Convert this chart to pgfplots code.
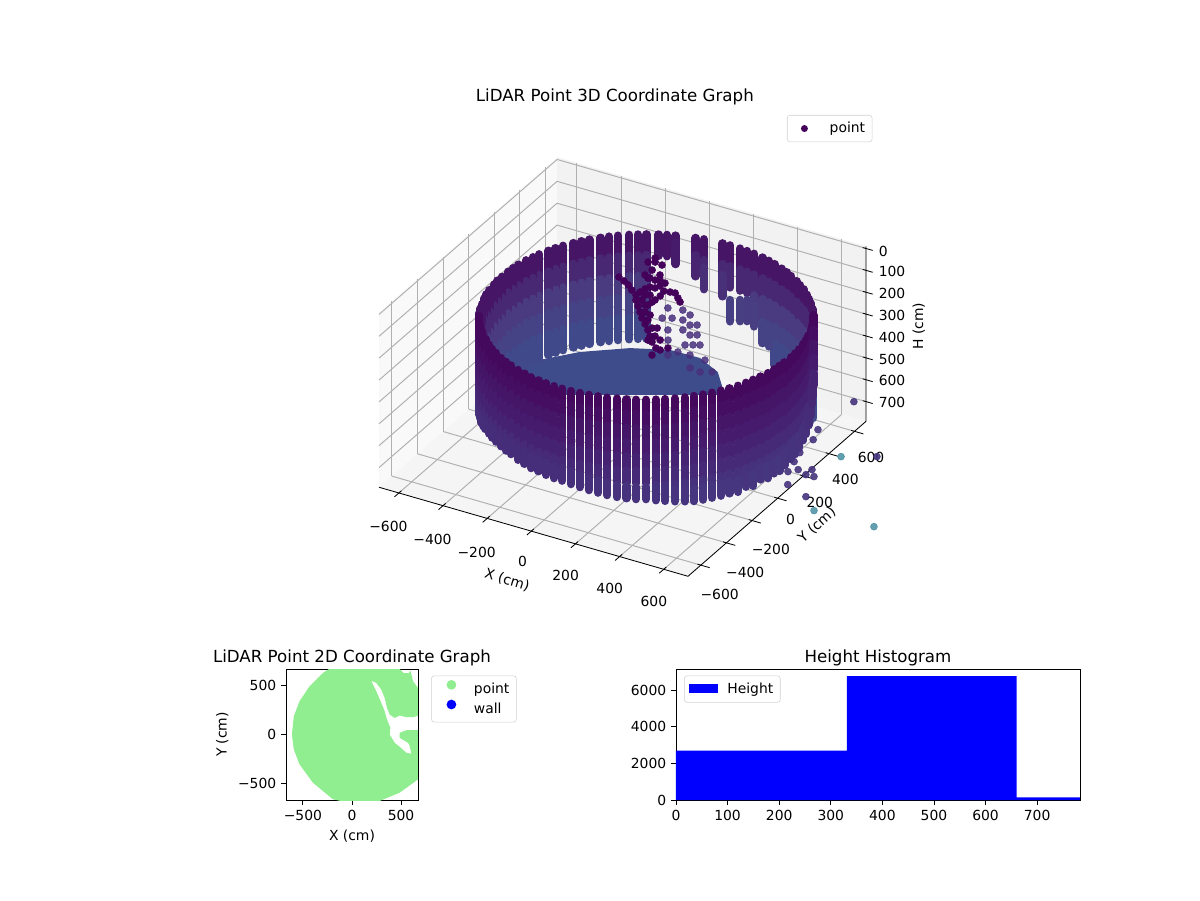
\documentclass[border=0pt]{standalone}
\usepackage{pgfplots}
\usepackage{fontspec}
\setmainfont{DejaVu Sans}
\pgfplotsset{compat=1.18}
\pgfdeclareplotmark{capsule}{%
  \pgfsetlinewidth{6pt}\pgfsetroundcap
  \pgfpathmoveto{\pgfqpoint{0pt}{-7.7pt}}\pgfpathlineto{\pgfqpoint{0pt}{7.7pt}}\pgfusepathqstroke}
\pgfdeclareplotmark{capsuleb}{%
  \pgfsetlinewidth{5.9pt}\pgfsetroundcap
  \pgfpathmoveto{\pgfqpoint{0pt}{-4.5pt}}\pgfpathlineto{\pgfqpoint{0pt}{4.5pt}}\pgfusepathqstroke}
\definecolor{treecol}{RGB}{68,1,90}
\definecolor{midcol}{RGB}{72,48,125}
\definecolor{floorcol}{RGB}{63,76,139}
\definecolor{scatcol}{RGB}{70,52,125}
\definecolor{tealcol}{RGB}{60,135,155}
\definecolor{lgreen}{RGB}{144,238,144}
\pgfplotsset{
  colormap={frontmap}{rgb255=(68,8,92) rgb255=(70,30,112) rgb255=(70,55,128)},
  colormap={backmap}{rgb255=(70,14,98) rgb255=(74,58,128) rgb255=(63,76,139)},
  mpl/.style={tick style={black,line width=.6pt},major tick length=3.5pt,tick align=outside,
    legend cell align=left,
    legend style={draw=black!18,rounded corners=2pt,inner sep=3pt,row sep=1pt}},
}
\begin{document}
\begin{tikzpicture}
\path (0,0) rectangle (864pt,648pt);
\begin{axis}[mpl,
  set layers,
  anchor=origin, at={(447.1pt,446.2pt)},
  x={(0.15890pt,-0.04579pt)}, y={(0.09223pt,0.08028pt)}, z={(0pt,0.1575pt)}, z dir=reverse,
  xmin=-690,xmax=710,ymin=-700,ymax=690,zmin=-10,zmax=790,
  clip=false,
  grid=major, grid style={color=black!31,line width=.7pt},
  axis line style={draw=none},
  tick style={draw=none},
  xtick={-600,-400,-200,0,200,400,600},
  ytick={-600,-400,-200,0,200,400,600},
  ztick={0,100,200,300,400,500,600,700},
  xticklabels={−600,−400,−200,0,200,400,600},
  yticklabels={−600,−400,−200,0,200,400,600},
  zticklabels={0,100,200,300,400,500,600,700},
  xtick pos=right, ytick pos=right, ztick pos=right,
  xticklabel pos=left, yticklabel pos=left, zticklabel pos=right,
  xticklabel style={yshift=-11pt}, yticklabel style={yshift=-6.5pt},
  zticklabel style={xshift=3pt,yshift=-6pt},
  title={LiDAR Point 3D Coordinate Graph},
  title style={font=\fontsize{12}{14}\selectfont,at={(axis cs:-744,1234,0)},anchor=center,yshift=-7pt},
  xlabel={X (cm)}, xlabel style={at={(axis cs:109,-1077,790)},anchor=center,rotate=-17},
  ylabel={Y (cm)}, ylabel style={at={(axis cs:949,-105,790)},anchor=center,rotate=42},
  zlabel={H (cm)}, zlabel style={at={(axis cs:890,792,354)},anchor=center},
]
% panes
\addplot3[on layer=axis background,fill=black!2.5,draw=none,forget plot] coordinates {(-690,-700,-10)(-690,690,-10)(-690,690,790)(-690,-700,790)} --cycle;
\addplot3[on layer=axis background,fill=black!5,draw=none,forget plot] coordinates {(-690,690,-10)(710,690,-10)(710,690,790)(-690,690,790)} --cycle;
\addplot3[on layer=axis background,fill=black!4,draw=none,forget plot] coordinates {(-690,-700,790)(710,-700,790)(710,690,790)(-690,690,790)} --cycle;
% spines and tick marks
\addplot3[black,line width=.6pt,forget plot] coordinates {(-690,-700,790)(710,-700,790)(710,690,790)(710,690,-10)};
\addplot3[black,line width=.6pt,forget plot,unbounded coords=jump] coordinates {
(-600,-680,790)(-600,-735,790)(nan,nan,nan)(-400,-680,790)(-400,-735,790)(nan,nan,nan)(-200,-680,790)(-200,-735,790)(nan,nan,nan)(0,-680,790)(0,-735,790)(nan,nan,nan)(200,-680,790)(200,-735,790)(nan,nan,nan)(400,-680,790)(400,-735,790)(nan,nan,nan)(600,-680,790)(600,-735,790)(nan,nan,nan)
(695,-600,790)(750,-600,790)(nan,nan,nan)(695,-400,790)(750,-400,790)(nan,nan,nan)(695,-200,790)(750,-200,790)(nan,nan,nan)(695,0,790)(750,0,790)(nan,nan,nan)(695,200,790)(750,200,790)(nan,nan,nan)(695,400,790)(750,400,790)(nan,nan,nan)(695,600,790)(750,600,790)(nan,nan,nan)
(695,690,0)(740,690,0)(nan,nan,nan)(695,690,100)(740,690,100)(nan,nan,nan)(695,690,200)(740,690,200)(nan,nan,nan)(695,690,300)(740,690,300)(nan,nan,nan)(695,690,400)(740,690,400)(nan,nan,nan)(695,690,500)(740,690,500)(nan,nan,nan)(695,690,600)(740,690,600)(nan,nan,nan)(695,690,700)(740,690,700)};
% back wall
\addplot3[scatter,only marks,mark=capsule,point meta=z,colormap name=backmap,point meta min=90,point meta max=470,forget plot,
 scatter/use mapped color={draw=mapped color,fill=mapped color}] coordinates {
(749,210,90)(749,210,185)(749,210,280)(749,210,375)(749,210,470)
(730,238,90)(730,238,185)(730,238,280)(730,238,375)(730,238,470)
(702,274,90)(702,274,185)(702,274,280)(702,274,375)(702,274,470)
(679,300,90)(679,300,185)(679,300,280)(679,300,375)(679,300,470)
(655,324,90)(655,324,185)(655,324,280)(655,324,375)(655,324,470)
(621,355,90)(621,355,185)(621,355,280)(621,355,375)(621,355,470)
(594,376,90)(594,376,185)(594,376,280)(594,376,375)(594,376,470)
(566,396,90)(566,396,185)(566,396,280)(566,396,375)(566,396,470)
(528,420,90)(528,420,185)(528,420,280)(528,420,375)(528,420,460)
(497,437,90)(497,437,185)(497,437,280)(497,437,375)(497,437,460)
(466,451,90)(466,451,185)(466,451,280)(466,451,375)(466,451,454)
(424,468,90)(424,468,185)(424,468,280)(424,468,375)(424,468,454)
(392,479,90)(392,479,185)(392,479,280)(392,479,384)
(358,489,90)(358,489,185)(358,489,280)(358,489,384)
(314,498,90)(314,498,185)(314,498,280)(314,498,325)
(280,503,90)(280,503,185)(280,503,313)
(246,506,90)(246,506,185)(246,506,325)
(200,508,90)(200,508,185)(200,508,340)
(166,507,90)(166,507,185)(166,507,235)
(86,498,90)(86,498,185)(86,498,221)
(53,491,90)(53,491,168)
(-24,468,90)(-24,468,123)
(-56,456,90)
(-87,442,90)
(-128,420,90)(-128,420,185)(-128,420,280)(-128,420,375)(-128,420,470)
(-157,402,90)(-157,402,185)(-157,402,280)(-157,402,375)(-157,402,470)
(-185,383,90)(-185,383,185)(-185,383,280)(-185,383,375)(-185,383,470)
(-221,355,90)(-221,355,185)(-221,355,280)(-221,355,375)(-221,355,470)
(-247,332,90)(-247,332,185)(-247,332,280)(-247,332,375)(-247,332,470)
(-271,308,90)(-271,308,185)(-271,308,280)(-271,308,375)(-271,308,470)
(-302,274,90)(-302,274,185)(-302,274,280)(-302,274,375)(-302,274,470)
(-323,247,90)(-323,247,185)(-323,247,280)(-323,247,375)(-323,247,470)
(-343,219,90)(-343,219,185)(-343,219,280)(-343,219,375)(-343,219,470)
(-367,181,90)(-367,181,185)(-367,181,280)(-367,181,375)(-367,181,470)
(-384,150,90)(-384,150,185)(-384,150,280)(-384,150,375)(-384,150,470)
(-398,119,90)(-398,119,185)(-398,119,280)(-398,119,375)(-398,119,470)
(-415,77,90)(-415,77,185)(-415,77,280)(-415,77,375)(-415,77,470)
(-426,45,90)(-426,45,185)(-426,45,280)(-426,45,375)(-426,45,470)
(-436,11,90)(-436,11,185)(-436,11,280)(-436,11,375)(-436,11,470)
(-445,-33,90)(-445,-33,185)(-445,-33,280)(-445,-33,375)(-445,-33,470)
(-450,-67,90)(-450,-67,185)(-450,-67,280)(-450,-67,375)(-450,-67,470)
(-453,-101,90)(-453,-101,185)(-453,-101,280)(-453,-101,375)(-453,-101,470)
(-455,-147,90)(-455,-147,185)(-455,-147,280)(-455,-147,375)
(-454,-181,90)(-454,-181,185)(-454,-181,280)(-454,-181,375)
(-451,-215,90)(-451,-215,185)(-451,-215,280)(-451,-215,375)
(-445,-261,90)(-445,-261,185)(-445,-261,280)(-445,-261,375)
(-438,-294,90)(-438,-294,185)(-438,-294,280)(-438,-294,375)
(-430,-328,90)(-430,-328,185)(-430,-328,280)(-430,-328,375)
(-415,-371,90)(-415,-371,185)(-415,-371,280)(-415,-371,375)
(-403,-403,90)(-403,-403,185)(-403,-403,280)(-403,-403,375)
(-389,-434,90)(-389,-434,185)(-389,-434,280)(-389,-434,375)
(-367,-475,90)(-367,-475,185)(-367,-475,280)(-367,-475,375)
};
% floor
\addplot3[fill=floorcol,draw=none,forget plot] coordinates {(-427,-131,490)(-384,28,490)(-279,159,490)(-123,283,490)(20,348,490)(154,352,490)(269,292,490)(383,151,490)(-349,-266,490)} --cycle;
% objects inside the ring
\addplot3[only marks,mark=*,mark size=2.5pt,color=midcol,opacity=.85,forget plot] coordinates {
(156,214,200)(195,147,200)(234,80,200)(200,195,200)(239,127,200)(278,60,200)(263,141,200)(302,74,200)(351,12,200)(327,-1,200)(300,-17,200)(303,-78,200)(223,-17,200)(183,51,200)(151,139,200)(97,199,200)(117,120,200)(281,-118,200)(356,-75,200)(427,-80,200)(498,-146,200)(457,-170,200)(407,-162,200)};
\addplot3[only marks,mark=*,mark size=2.5pt,color=treecol,forget plot] coordinates {
(-191,313,200)(-158,296,200)(-128,277,200)(-96,250,200)(-62,224,200)(-60,253,200)(-55,283,200)(-46,305,200)(-25,309,200)(-16,332,200)(17,305,200)(42,311,200)(63,314,200)(92,286,200)(115,263,200)(-43,191,200)(-12,154,200)(18,118,200)(48,81,200)(82,47,200)(115,12,200)(146,-25,200)(176,-61,200)(213,-94,200)(196,-32,200)(139,43,200)(64,117,200)(18,180,200)(22,228,200)(24,265,200)(-105,424,200)(-88,362,200)(-126,484,200)(-59,406,200)
(-110,377,200)(-81,366,200)(-56,362,200)(-39,372,200)(-10,361,200)(-31,242,200)(-14,251,200)(20,208,200)(8,175,200)(-23,203,200)(35,128,200)(76,79,200)(122,33,200)(163,-15,200)(155,-56,200)(235,-99,200)(227,-149,200)(254,-71,200)(-142,511,200)(-150,470,200)(-91,477,200)};
% lower right scatter
\addplot3[only marks,mark=*,mark size=2.5pt,color=scatcol,opacity=.9,forget plot] coordinates {
(855,-77,500)(840,-113,500)(871,-149,500)(889,-228,500)(916,-195,500)(962,-214,500)(963,-168,500)(997,-211,500)(939,-316,500)(1048,-362,500)(827,113,500)(850,36,500)(816,16,500)(782,-3,500)(765,78,500)(772,145,500)(723,206,500)(701,283,500)(840,371,500)(1133,46,500)};
% front wall
\addplot3[scatter,only marks,mark=capsuleb,point meta=z,colormap name=frontmap,point meta min=57,point meta max=498,forget plot,
 scatter/use mapped color={draw=mapped color,fill=mapped color}] coordinates {
(-367,-475,57)(-367,-475,122)(-367,-475,187)(-367,-475,252)(-367,-475,317)(-367,-475,382)(-367,-475,436)
(-349,-504,57)(-349,-504,122)(-349,-504,187)(-349,-504,252)(-349,-504,317)(-349,-504,382)(-349,-504,431)
(-330,-532,57)(-330,-532,122)(-330,-532,187)(-330,-532,252)(-330,-532,317)(-330,-532,382)(-330,-532,426)
(-302,-568,57)(-302,-568,122)(-302,-568,187)(-302,-568,252)(-302,-568,317)(-302,-568,382)(-302,-568,421)
(-279,-594,57)(-279,-594,122)(-279,-594,187)(-279,-594,252)(-279,-594,317)(-279,-594,382)(-279,-594,416)
(-255,-618,57)(-255,-618,122)(-255,-618,187)(-255,-618,252)(-255,-618,317)(-255,-618,382)(-255,-618,411)
(-221,-649,57)(-221,-649,122)(-221,-649,187)(-221,-649,252)(-221,-649,317)(-221,-649,382)(-221,-649,406)
(-194,-670,57)(-194,-670,122)(-194,-670,187)(-194,-670,252)(-194,-670,317)(-194,-670,382)(-194,-670,406)
(-166,-690,57)(-166,-690,122)(-166,-690,187)(-166,-690,252)(-166,-690,317)(-166,-690,382)(-166,-690,406)
(-128,-714,57)(-128,-714,122)(-128,-714,187)(-128,-714,252)(-128,-714,317)(-128,-714,382)(-128,-714,404)
(-97,-731,57)(-97,-731,122)(-97,-731,187)(-97,-731,252)(-97,-731,317)(-97,-731,382)(-97,-731,406)
(-66,-745,57)(-66,-745,122)(-66,-745,187)(-66,-745,252)(-66,-745,317)(-66,-745,382)(-66,-745,406)
(-24,-762,57)(-24,-762,122)(-24,-762,187)(-24,-762,252)(-24,-762,317)(-24,-762,382)(-24,-762,411)
(12,-774,57)(12,-774,122)(12,-774,187)(12,-774,252)(12,-774,317)(12,-774,382)(12,-774,413)
(49,-785,57)(49,-785,122)(49,-785,187)(49,-785,252)(49,-785,317)(49,-785,382)(49,-785,416)
(86,-792,57)(86,-792,122)(86,-792,187)(86,-792,252)(86,-792,317)(86,-792,382)(86,-792,416)
(124,-797,57)(124,-797,122)(124,-797,187)(124,-797,252)(124,-797,317)(124,-797,382)(124,-797,419)
(162,-801,57)(162,-801,122)(162,-801,187)(162,-801,252)(162,-801,317)(162,-801,382)(162,-801,421)
(200,-802,57)(200,-802,122)(200,-802,187)(200,-802,252)(200,-802,317)(200,-802,382)(200,-802,421)
(238,-801,57)(238,-801,122)(238,-801,187)(238,-801,252)(238,-801,317)(238,-801,382)(238,-801,426)
(276,-797,57)(276,-797,122)(276,-797,187)(276,-797,252)(276,-797,317)(276,-797,382)(276,-797,431)
(314,-792,57)(314,-792,122)(314,-792,187)(314,-792,252)(314,-792,317)(314,-792,382)(314,-792,436)
(351,-784,57)(351,-784,122)(351,-784,187)(351,-784,252)(351,-784,317)(351,-784,382)(351,-784,441)
(388,-775,57)(388,-775,122)(388,-775,187)(388,-775,252)(388,-775,317)(388,-775,382)(388,-775,446)
(424,-762,57)(424,-762,122)(424,-762,187)(424,-762,252)(424,-762,317)(424,-762,382)(424,-762,451)
(460,-749,57)(460,-749,122)(460,-749,187)(460,-749,252)(460,-749,317)(460,-749,382)(460,-749,453)
(494,-733,57)(494,-733,122)(494,-733,187)(494,-733,252)(494,-733,317)(494,-733,382)(494,-733,455)
(528,-714,57)(528,-714,122)(528,-714,187)(528,-714,252)(528,-714,317)(528,-714,382)(528,-714,455)
(560,-694,57)(560,-694,122)(560,-694,187)(560,-694,252)(560,-694,317)(560,-694,382)(560,-694,447)(560,-694,461)
(591,-672,57)(591,-672,122)(591,-672,187)(591,-672,252)(591,-672,317)(591,-672,382)(591,-672,447)(591,-672,466)
(621,-649,57)(621,-649,122)(621,-649,187)(621,-649,252)(621,-649,317)(621,-649,382)(621,-649,447)(621,-649,471)
(650,-623,57)(650,-623,122)(650,-623,187)(650,-623,252)(650,-623,317)(650,-623,382)(650,-623,447)(650,-623,476)
(676,-596,57)(676,-596,122)(676,-596,187)(676,-596,252)(676,-596,317)(676,-596,382)(676,-596,447)(676,-596,481)
(702,-568,57)(702,-568,122)(702,-568,187)(702,-568,252)(702,-568,317)(702,-568,382)(702,-568,447)(702,-568,481)
(725,-538,57)(725,-538,122)(725,-538,187)(725,-538,252)(725,-538,317)(725,-538,382)(725,-538,447)(725,-538,481)
(747,-507,57)(747,-507,122)(747,-507,187)(747,-507,252)(747,-507,317)(747,-507,382)(747,-507,447)(747,-507,481)
(767,-475,57)(767,-475,122)(767,-475,187)(767,-475,252)(767,-475,317)(767,-475,382)(767,-475,447)(767,-475,481)
(786,-441,57)(786,-441,122)(786,-441,187)(786,-441,252)(786,-441,317)(786,-441,382)(786,-441,447)(786,-441,486)
(801,-406,57)(801,-406,122)(801,-406,187)(801,-406,252)(801,-406,317)(801,-406,382)(801,-406,447)(801,-406,476)
(815,-371,57)(815,-371,122)(815,-371,187)(815,-371,252)(815,-371,317)(815,-371,382)(815,-371,447)(815,-371,486)
(827,-335,57)(827,-335,122)(827,-335,187)(827,-335,252)(827,-335,317)(827,-335,382)(827,-335,447)(827,-335,471)
(838,-298,57)(838,-298,122)(838,-298,187)(838,-298,252)(838,-298,317)(838,-298,382)(838,-298,447)(838,-298,481)
(845,-261,57)(845,-261,122)(845,-261,187)(845,-261,252)(845,-261,317)(845,-261,382)(845,-261,447)(845,-261,476)
(850,-227,57)(850,-227,122)(850,-227,187)(850,-227,252)(850,-227,317)(850,-227,382)(850,-227,447)(850,-227,481)
(853,-193,57)(853,-193,122)(853,-193,187)(853,-193,252)(853,-193,317)(853,-193,382)(853,-193,447)(853,-193,471)
(855,-147,57)(855,-147,122)(855,-147,187)(855,-147,252)(855,-147,317)(855,-147,382)(855,-147,447)(855,-147,466)
(854,-113,57)(854,-113,122)(854,-113,187)(854,-113,252)(854,-113,317)(854,-113,382)(854,-113,447)(854,-113,461)
(851,-79,57)(851,-79,122)(851,-79,187)(851,-79,252)(851,-79,317)(851,-79,382)(851,-79,451)
(845,-33,57)(845,-33,122)(845,-33,187)(845,-33,252)(845,-33,317)(845,-33,382)(845,-33,441)
(838,0,57)(838,0,122)(838,0,187)(838,0,252)(838,0,317)(838,0,382)(838,0,431)
(830,34,57)(830,34,122)(830,34,187)(830,34,252)(830,34,317)(830,34,382)(830,34,411)
(815,77,57)(815,77,122)(815,77,187)(815,77,252)(815,77,317)(815,77,391)
(803,109,57)(803,109,122)(803,109,187)(803,109,252)(803,109,317)(803,109,361)
(789,140,57)(789,140,122)(789,140,187)(789,140,252)(789,140,341)
(767,181,57)(767,181,122)(767,181,187)(767,181,252)(767,181,321)
};
% far points
\addplot3[only marks,mark=*,mark size=2.5pt,color=tealcol,opacity=.8,forget plot] coordinates {(1011,-24,500)(1130,-440,500)(1397,-432,500)};
\end{axis}

% legend of the 3D chart
\begin{axis}[mpl, hide axis, scale only axis, width=10pt, height=10pt,
  anchor=north west, at={(566.6pt,565.2pt)}, xmin=0,xmax=1,ymin=0,ymax=1,
  legend style={at={(0,1)},anchor=north west},
]
\addlegendimage{legend image code/.code={\path[draw=none] (0,0) -- (0.9cm,0);\fill[treecol,draw=none] (0.33cm,0) circle (2.5pt);}}
\addlegendentry{point}
\end{axis}

\begin{axis}[mpl,
  scale only axis, width=95.04pt, height=94.32pt,
  anchor=south west, at={(205.9pt,72pt)},
  xmin=-672,xmax=672,ymin=-670,ymax=670,
  xtick={-500,0,500}, ytick={-500,0,500},
  xticklabels={−500,0,500}, yticklabels={−500,0,500},
  xtick pos=bottom, ytick pos=left,
  xlabel={X (cm)}, ylabel={Y (cm)},
  title={LiDAR Point 2D Coordinate Graph},
  title style={font=\fontsize{12}{14}\selectfont,yshift=-7.5pt},
  legend style={at={(1.1,0.95)},anchor=north west},
]
\addlegendimage{legend image code/.code={\path[draw=none] (0,0) -- (0.9cm,0);\fill[lgreen,draw=none] (0.4cm,0) circle (3.5pt);}}
\addlegendentry{point}
\addlegendimage{legend image code/.code={\path[draw=none] (0,0) -- (0.9cm,0);\fill[blue,draw=none] (0.4cm,0) circle (3.5pt);}}
\addlegendentry{wall}
\addplot[fill=lgreen,draw=none,forget plot] coordinates {
(-612,0)(-592,187)(-534,340)(-432,493)(-296,629)(-194,697)(146,731)(452,680)(486,670)(527,629)(581,629)(595,656)(622,544)(724,408)(724,204)(622,177)(554,177)(486,194)(435,170)(384,204)(357,272)(333,374)(299,459)(248,527)(197,551)(214,510)(248,442)(299,323)(333,238)(357,153)(391,68)(384,0)(435,-85)(486,-126)(554,-187)(605,-197)(588,-119)(571,-85)(486,-34)(486,17)(554,44)(724,44)(724,-391)(673,-459)(486,-595)(282,-680)(44,-714)(-194,-663)(-398,-493)(-534,-306)(-592,-153)} --cycle;
\end{axis}

\begin{axis}[mpl,
  scale only axis, width=290.88pt, height=94.32pt,
  anchor=south west, at={(486.7pt,72pt)},
  xmin=0,xmax=783,ymin=0,ymax=7145,
  xtick={0,100,...,700}, ytick={0,2000,4000,6000},
  /pgf/number format/assume math mode=true,
  /pgf/number format/1000 sep={},
  xtick pos=bottom, ytick pos=left,
  title={Height Histogram},
  title style={font=\fontsize{12}{14}\selectfont,yshift=-7.5pt},
  legend style={at={(0.02,0.95)},anchor=north west},
]
\addlegendimage{legend image code/.code={\path[draw=none] (0,0) -- (26pt,0);\fill[blue,sharp corners,draw=none] (0,-2.5pt) rectangle (21pt,4pt);}}
\addlegendentry{Height}
\addplot[ybar interval,fill=blue,draw=none,forget plot] coordinates {(0,2700)(331,6750)(660,150)(786,150)};
\end{axis}
\end{tikzpicture}
\end{document}
